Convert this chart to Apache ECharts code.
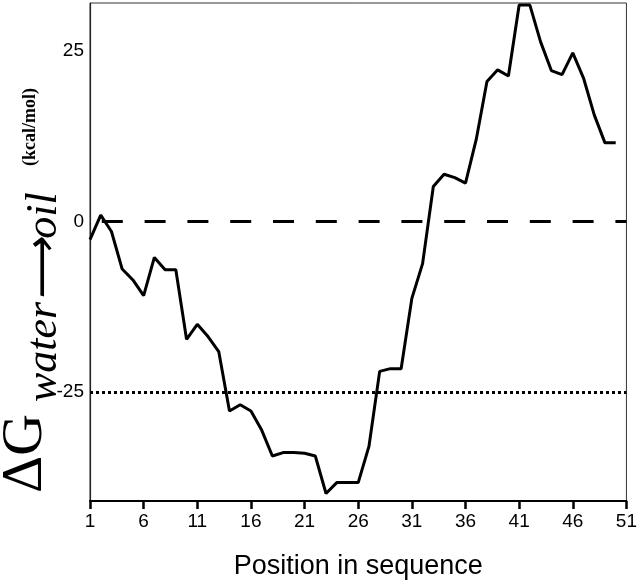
<!DOCTYPE html>
<html>
<head>
<meta charset="utf-8">
<script src="https://cdn.jsdelivr.net/npm/echarts@6/dist/echarts.min.js"></script>
<style>
  html, body { margin: 0; padding: 0; background: #fff; }
  #chart { width: 640px; height: 587px; }
</style>
</head>
<body>
<div id="chart"></div>
<script>
// Sequence positions (x-axis categories)
const positions = [1,2,3,4,5,6,7,8,9,10,11,12,13,14,15,16,17,18,19,20,21,22,23,24,25,26,27,28,29,30,31,32,33,34,35,36,37,38,39,40,41,42,43,44,45,46,47,48,49,50,51];
// ΔG water→oil (kcal/mol) at positions 1..50
const deltaG = [-2.7,0.9,-1.5,-7.0,-8.6,-10.9,-5.3,-7.1,-7.1,-17.3,
                -15.1,-16.9,-19.1,-27.8,-26.9,-27.8,-30.6,-34.4,-33.9,-33.9,
                -34.0,-34.4,-39.9,-38.3,-38.3,-38.3,-33.0,-22.0,-21.6,-21.6,
                -11.3,-6.2,5.1,6.9,6.4,5.6,12.0,20.5,22.2,21.3,
                31.7,31.7,26.3,22.1,21.5,24.7,21.0,15.6,11.5,11.5];
// Y tick labels
const yTicks = [-25, 0, 25];
// Reference levels
const zeroLevel = 0;
const thresholdLevel = -25;

const chart = echarts.init(document.getElementById('chart'), null, {renderer: 'canvas'});
const sans = '"Liberation Sans", Arial, sans-serif';
const serif = '"Liberation Serif", "Times New Roman", serif';

chart.setOption({
  animation: false,
  backgroundColor: '#ffffff',
  grid: {left: 90, right: 8, top: 3, bottom: 86, show: true, borderColor: '#333', borderWidth: 1, containLabel: false},
  xAxis: {
    type: 'category',
    data: positions.map(String),
    boundaryGap: false,
    axisLine: {show: true, onZero: false, lineStyle: {color: '#000', width: 2}},
    axisTick: {show: true, interval: 4, length: 8, lineStyle: {color: '#000', width: 2.5}},
    axisLabel: {interval: 4, color: '#000', fontSize: 19, fontFamily: sans, margin: 11},
    splitLine: {show: false},
    name: 'Position in sequence',
    nameLocation: 'middle',
    nameGap: 52,
    nameTextStyle: {color: '#000', fontSize: 27, fontFamily: sans}
  },
  yAxis: {
    type: 'value',
    min: -41,
    max: 32,
    axisLine: {show: true, lineStyle: {color: '#222', width: 1.2}},
    axisTick: {show: false},
    axisLabel: {customValues: yTicks, color: '#000', fontSize: 19, fontFamily: sans, margin: 6},
    splitLine: {show: false}
  },
  graphic: [
    {type: 'text', x: 26, y: 493, rotation: Math.PI / 2,
     style: {text: 'ΔG', font: 'normal 400 58px ' + serif, fill: '#000', align: 'left', verticalAlign: 'middle'}},
    {type: 'text', x: 44, y: 402, rotation: Math.PI / 2,
     style: {text: 'water⟶oil', font: 'italic 400 44px ' + serif, fill: '#000', align: 'left', verticalAlign: 'middle'}},
    {type: 'text', x: 30, y: 166, rotation: Math.PI / 2,
     style: {text: '(kcal/mol)', font: 'normal 700 18px ' + serif, fill: '#000', align: 'left', verticalAlign: 'middle'}}
  ],
  series: [
    {
      type: 'line',
      data: deltaG,
      symbol: 'none',
      lineStyle: {color: '#000', width: 3},
      z: 3,
      markLine: {
        silent: true,
        symbol: ['none', 'none'],
        label: {show: false},
        data: [
          {yAxis: zeroLevel, lineStyle: {color: '#000', width: 3, type: [21, 21.8], dashOffset: 31}},
          {yAxis: thresholdLevel, lineStyle: {color: '#000', width: 3, type: [3, 3]}}
        ]
      }
    }
  ]
});
</script>
</body>
</html>
